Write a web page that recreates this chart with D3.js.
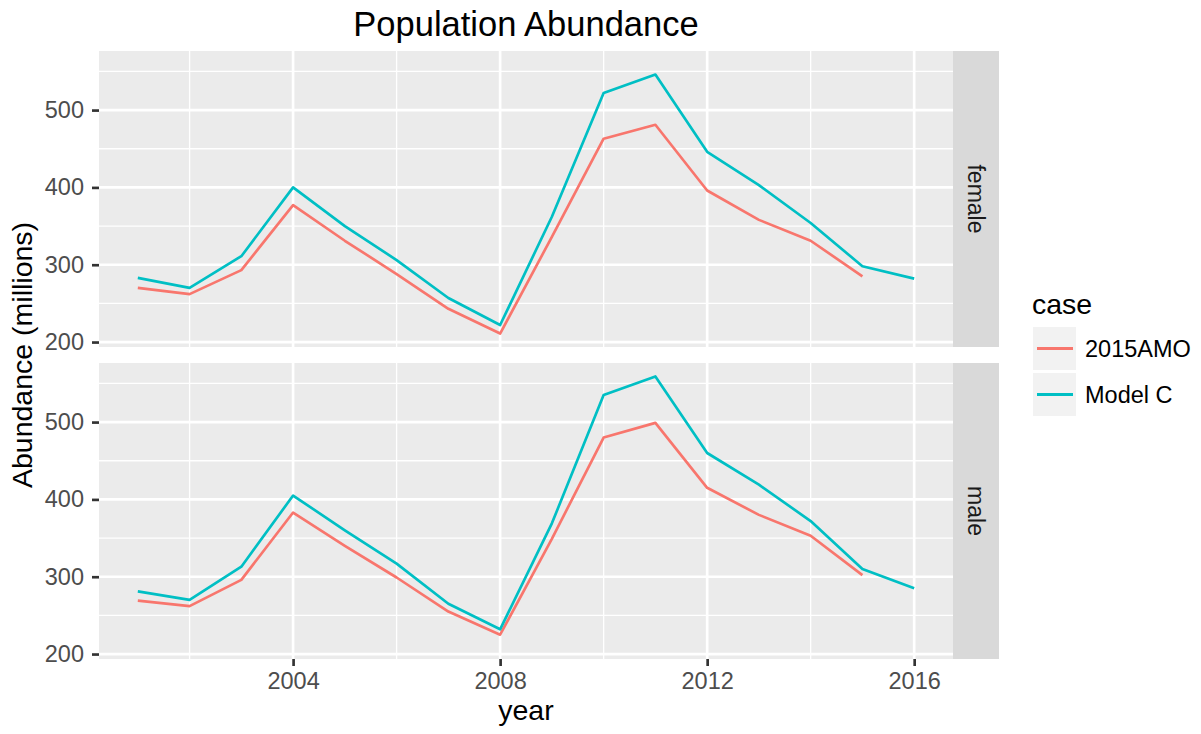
<!DOCTYPE html>
<html>
<head>
<meta charset="utf-8">
<script src="https://cdn.jsdelivr.net/npm/d3@7"></script>
<style>
  body { margin: 0; background: #fff; }
  svg text { font-family: "Liberation Sans", Arial, Helvetica, sans-serif; }
</style>
</head>
<body>
<div id="chart"></div>
<script>
// data
var years = [2001, 2002, 2003, 2004, 2005, 2006, 2007, 2008, 2009, 2010, 2011, 2012, 2013, 2014, 2015, 2016];
var cases = ["2015AMO", "Model C"];
var caseColors = ["#F8766D", "#00BFC4"];
var sexes = ["female", "male"];

// 2015AMO stops at 2015, Model C runs to 2016
var femaleAMO = [270, 262, 293, 377, 331, 288, 243, 211, 336, 463, 481, 396, 358, 331, 285];
var femaleModelC = [283, 270, 311, 400, 350, 306, 257, 222, 362, 522, 546, 446, 403, 354, 298, 282];
var maleAMO = [269, 262, 296, 383, 340, 299, 255, 225, 349, 480, 499, 415, 380, 353, 302];
var maleModelC = [281, 270, 313, 405, 360, 317, 265, 232, 369, 535, 559, 460, 419, 372, 310, 285];

var yTicks = [200, 300, 400, 500];
var yMinor = [250, 350, 450, 550];
var xTicks = [2004, 2008, 2012, 2016];
var xMinor = [2002, 2006, 2010, 2014];

var panelSeries = [[femaleAMO, femaleModelC], [maleAMO, maleModelC]];

var width = 1201, height = 734;
var panelLeft = 99, panelRight = 953, stripWidth = 46;
var panelTops = [51, 363], panelHeight = 296;

var svg = d3.select("#chart")
  .append("svg")
  .attr("width", width)
  .attr("height", height);

svg.append("rect").attr("width", width).attr("height", height).attr("fill", "#fff");

// scales (ggplot style 5% expansion)
var xExt = d3.extent(years);
var xPad = (xExt[1] - xExt[0]) * 0.05;
var x = d3.scaleLinear()
  .domain([xExt[0] - xPad, xExt[1] + xPad])
  .range([panelLeft, panelRight]);

var allVals = [].concat(femaleAMO, femaleModelC, maleAMO, maleModelC);
var yExt = d3.extent(allVals);
var yPad = (yExt[1] - yExt[0]) * 0.05;

var line = d3.line()
  .x(function (d) { return x(d.year); })
  .y(function (d) { return d.yScale(d.value); });

sexes.forEach(function (sex, i) {
  var top = panelTops[i];
  var y = d3.scaleLinear()
    .domain([yExt[0] - yPad, yExt[1] + yPad])
    .range([top + panelHeight, top]);

  var g = svg.append("g");

  // panel background
  g.append("rect")
    .attr("x", panelLeft).attr("y", top)
    .attr("width", panelRight - panelLeft).attr("height", panelHeight)
    .attr("fill", "#EBEBEB");

  // minor grid
  g.selectAll(".ymin").data(yMinor).enter().append("line")
    .attr("x1", panelLeft).attr("x2", panelRight)
    .attr("y1", function (d) { return y(d); }).attr("y2", function (d) { return y(d); })
    .attr("stroke", "#fff").attr("stroke-width", 1.33);
  g.selectAll(".xmin").data(xMinor).enter().append("line")
    .attr("y1", top).attr("y2", top + panelHeight)
    .attr("x1", function (d) { return x(d); }).attr("x2", function (d) { return x(d); })
    .attr("stroke", "#fff").attr("stroke-width", 1.33);

  // major grid
  g.selectAll(".ymaj").data(yTicks).enter().append("line")
    .attr("x1", panelLeft).attr("x2", panelRight)
    .attr("y1", function (d) { return y(d); }).attr("y2", function (d) { return y(d); })
    .attr("stroke", "#fff").attr("stroke-width", 2.67);
  g.selectAll(".xmaj").data(xTicks).enter().append("line")
    .attr("y1", top).attr("y2", top + panelHeight)
    .attr("x1", function (d) { return x(d); }).attr("x2", function (d) { return x(d); })
    .attr("stroke", "#fff").attr("stroke-width", 2.67);

  // lines
  panelSeries[i].forEach(function (vals, j) {
    var pts = vals.map(function (v, k) { return { year: years[k], value: v, yScale: y }; });
    g.append("path")
      .datum(pts)
      .attr("fill", "none")
      .attr("stroke", caseColors[j])
      .attr("stroke-width", 2.67)
      .attr("stroke-linejoin", "round")
      .attr("d", line);
  });

  // y axis
  var yAxis = g.append("g")
    .attr("transform", "translate(" + panelLeft + ",0)")
    .call(d3.axisLeft(y).tickValues(yTicks).tickSize(7).tickPadding(8));
  yAxis.select(".domain").remove();
  yAxis.selectAll(".tick line").attr("stroke", "#333333").attr("stroke-width", 2.67);
  yAxis.selectAll(".tick text")
    .attr("fill", "#4D4D4D")
    .style("font-size", "23.5px")
    .style("font-family", "Liberation Sans, Arial, sans-serif");

  // strip on the right
  g.append("rect")
    .attr("x", panelRight).attr("y", top)
    .attr("width", stripWidth).attr("height", panelHeight)
    .attr("fill", "#D9D9D9");
  g.append("text")
    .attr("transform", "translate(" + (panelRight + stripWidth / 2) + "," + (top + panelHeight / 2) + ") rotate(90)")
    .attr("text-anchor", "middle")
    .attr("dy", "0.35em")
    .attr("fill", "#1A1A1A")
    .style("font-size", "23px")
    .text(sex);

  // x axis only under the bottom panel
  if (i === sexes.length - 1) {
    var xAxis = g.append("g")
      .attr("transform", "translate(0," + (top + panelHeight) + ")")
      .call(d3.axisBottom(x).tickValues(xTicks).tickFormat(d3.format("d")).tickSize(7).tickPadding(6));
    xAxis.select(".domain").remove();
    xAxis.selectAll(".tick line").attr("stroke", "#333333").attr("stroke-width", 2.67);
    xAxis.selectAll(".tick text")
      .attr("fill", "#4D4D4D")
      .style("font-size", "23.5px")
      .style("font-family", "Liberation Sans, Arial, sans-serif");
  }
});

// titles
svg.append("text")
  .attr("x", (panelLeft + panelRight) / 2)
  .attr("y", 36)
  .attr("text-anchor", "middle")
  .attr("fill", "#000")
  .style("font-size", "34.5px")
  .text("Population Abundance");

svg.append("text")
  .attr("x", (panelLeft + panelRight) / 2)
  .attr("y", 720)
  .attr("text-anchor", "middle")
  .attr("fill", "#000")
  .style("font-size", "28.5px")
  .text("year");

svg.append("text")
  .attr("transform", "translate(32," + ((panelTops[0] + panelTops[1] + panelHeight) / 2) + ") rotate(-90)")
  .attr("text-anchor", "middle")
  .attr("fill", "#000")
  .style("font-size", "28.5px")
  .text("Abundance (millions)");

// legend
var legend = svg.append("g").attr("transform", "translate(1032,0)");
legend.append("text")
  .attr("x", 0).attr("y", 314)
  .attr("fill", "#000")
  .style("font-size", "28.5px")
  .text("case");

var keySize = 43, keyTop = 327, keyStep = 46;
cases.forEach(function (c, j) {
  var ky = keyTop + j * keyStep;
  legend.append("rect")
    .attr("x", 1).attr("y", ky)
    .attr("width", keySize).attr("height", keySize)
    .attr("fill", "#F2F2F2");
  legend.append("line")
    .attr("x1", 5).attr("x2", 41)
    .attr("y1", ky + keySize / 2).attr("y2", ky + keySize / 2)
    .attr("stroke", caseColors[j])
    .attr("stroke-width", 3);
  legend.append("text")
    .attr("x", 53).attr("y", ky + keySize / 2)
    .attr("dy", "0.35em")
    .attr("fill", "#000")
    .style("font-size", "23.5px")
    .text(c);
});
</script>
</body>
</html>
